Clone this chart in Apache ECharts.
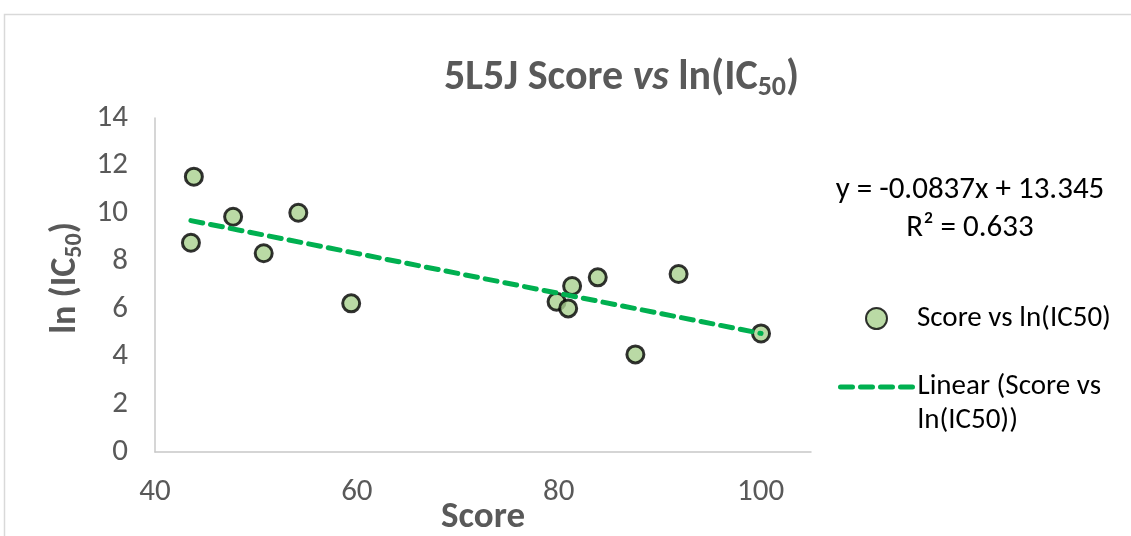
<!DOCTYPE html>
<html>
<head>
<meta charset="utf-8">
<style>
  html, body { margin: 0; padding: 0; background: #fff; }
  #chart { width: 1131px; height: 536px; }
</style>
<script src="https://cdn.jsdelivr.net/npm/echarts@6/dist/echarts.min.js"></script>
</head>
<body>
<div id="chart"></div>
<script>
// Docking score against ln(IC50) for the 5L5J target
const scores = [43.85, 43.56, 47.74, 50.77, 54.2, 59.44, 79.79, 80.94, 81.33, 83.87, 87.6, 91.88, 100.05];
const lnIC50 = [11.54, 8.77, 9.86, 8.33, 10.03, 6.23, 6.30, 6.02, 6.96, 7.32, 4.09, 7.46, 4.97];

// Least-squares fit as reported on the chart
const slope = -0.0837;
const intercept = 13.345;
const rSquared = 0.633;

const xTicks = [40, 60, 80, 100];
const yTicks = [0, 2, 4, 6, 8, 10, 12, 14];

const FONT = 'Carlito, Lato, "Open Sans", sans-serif';
const GREY = '#595959';

const points = scores.map((s, i) => [s, lnIC50[i]]);
const xMin = Math.min(...scores);
const xMax = Math.max(...scores);
const trend = [[xMin, slope * xMin + intercept], [xMax, slope * xMax + intercept]];

const scatterName = 'Score vs ln(IC50)';
const trendName = 'Linear (Score vs ln(IC50))';

const chart = echarts.init(document.getElementById('chart'), null, { renderer: 'canvas' });

chart.setOption({
  backgroundColor: '#fff',
  animation: false,
  textStyle: { fontFamily: FONT },
  title: {
    text: '{b|5L5J Score }{i|vs}{b| ln(IC}{s|50}{b|)}',
    left: 444,
    top: 54,
    padding: 0,
    textStyle: {
      rich: {
        b: { fontFamily: FONT, fontWeight: 'bold', fontSize: 42, color: GREY, lineHeight: 48 },
        i: { fontFamily: FONT, fontWeight: 'bold', fontStyle: 'italic', fontSize: 42, color: GREY, lineHeight: 48 },
        s: { fontFamily: FONT, fontWeight: 'bold', fontSize: 28, color: GREY, lineHeight: 48, padding: [20, 0, 0, 0] }
      }
    }
  },
  grid: { left: 155, right: 320, top: 118, bottom: 84, outerBoundsMode: 'none', containLabel: false },
  xAxis: {
    type: 'value',
    min: 40,
    max: 105,
    interval: 20,
    name: 'Score',
    nameLocation: 'middle',
    nameGap: 47,
    nameMoveOverlap: false,
    nameTextStyle: { fontFamily: FONT, fontWeight: 'bold', fontSize: 37, color: GREY },
    axisLine: { show: true, lineStyle: { color: '#c8c8c8', width: 1.5 } },
    axisTick: { show: false },
    splitLine: { show: false },
    axisLabel: {
      fontFamily: FONT, fontSize: 31, color: GREY, margin: 25,
      showMaxLabel: false,
      formatter: v => (xTicks.includes(v) ? String(v) : '')
    }
  },
  yAxis: {
    type: 'value',
    min: 0,
    max: 14,
    interval: 2,
    name: '{b|ln (IC}{s|50}{b|)}',
    nameLocation: 'middle',
    nameGap: 66,
    nameMoveOverlap: false,
    nameTextStyle: {
      padding: [0, 0, 0, 14],
      rich: {
        b: { fontFamily: FONT, fontWeight: 'bold', fontSize: 36, color: GREY, lineHeight: 46 },
        s: { fontFamily: FONT, fontWeight: 'bold', fontSize: 24, color: GREY, lineHeight: 46, padding: [17, 0, 0, 0] }
      }
    },
    axisLine: { show: true, lineStyle: { color: '#c8c8c8', width: 1.5 } },
    axisTick: { show: false },
    splitLine: { show: false },
    axisLabel: {
      fontFamily: FONT, fontSize: 31, color: GREY, margin: 27,
      formatter: v => (yTicks.includes(v) ? String(v) : '')
    }
  },
  legend: [
    {
      data: [scatterName],
      orient: 'vertical',
      left: 865,
      top: 304,
      padding: 0,
      itemWidth: 21,
      itemHeight: 21,
      textStyle: { fontFamily: FONT, fontSize: 29, color: '#000', padding: [0, 0, 0, 25] }
    },
    {
      data: [trendName],
      orient: 'vertical',
      left: 838,
      top: 336,
      padding: 0,
      itemWidth: 72,
      itemHeight: 14,
      itemStyle: { opacity: 0 },
      lineStyle: { color: '#00b050', width: 5, type: [12, 8], cap: 'round' },
      // leading blank line keeps the first text line level with the dashed key
      formatter: () => '\nLinear (Score vs\nln(IC50))',
      textStyle: { fontFamily: FONT, fontSize: 29, color: '#000', lineHeight: 34 }
    }
  ],
  graphic: [
    {
      type: 'rect',
      silent: true,
      shape: { x: 4.5, y: 14.5, width: 1200, height: 600 },
      style: { fill: 'none', stroke: '#d9d9d9', lineWidth: 1.5 },
      z: -10
    },
    {
      type: 'text',
      x: 970,
      y: 190,
      style: {
        text: 'y = ' + slope + 'x + ' + intercept,
        fontFamily: FONT, fontSize: 31, fill: '#000',
        align: 'center', verticalAlign: 'middle'
      }
    },
    {
      type: 'text',
      x: 970,
      y: 228,
      style: {
        text: 'R\u00b2 = ' + rSquared,
        fontFamily: FONT, fontSize: 31, fill: '#000',
        align: 'center', verticalAlign: 'middle'
      }
    }
  ],
  series: [
    {
      name: scatterName,
      type: 'scatter',
      data: points,
      symbol: 'circle',
      symbolSize: 17,
      itemStyle: { color: '#a9d18e', borderColor: '#000', borderWidth: 3 },
      z: 3
    },
    {
      name: trendName,
      type: 'line',
      data: trend,
      showSymbol: false,
      symbol: 'none',
      lineStyle: { color: '#00b050', width: 5, type: [12, 8], cap: 'round' },
      itemStyle: { color: '#00b050' },
      z: 4
    }
  ]
});
</script>
</body>
</html>
